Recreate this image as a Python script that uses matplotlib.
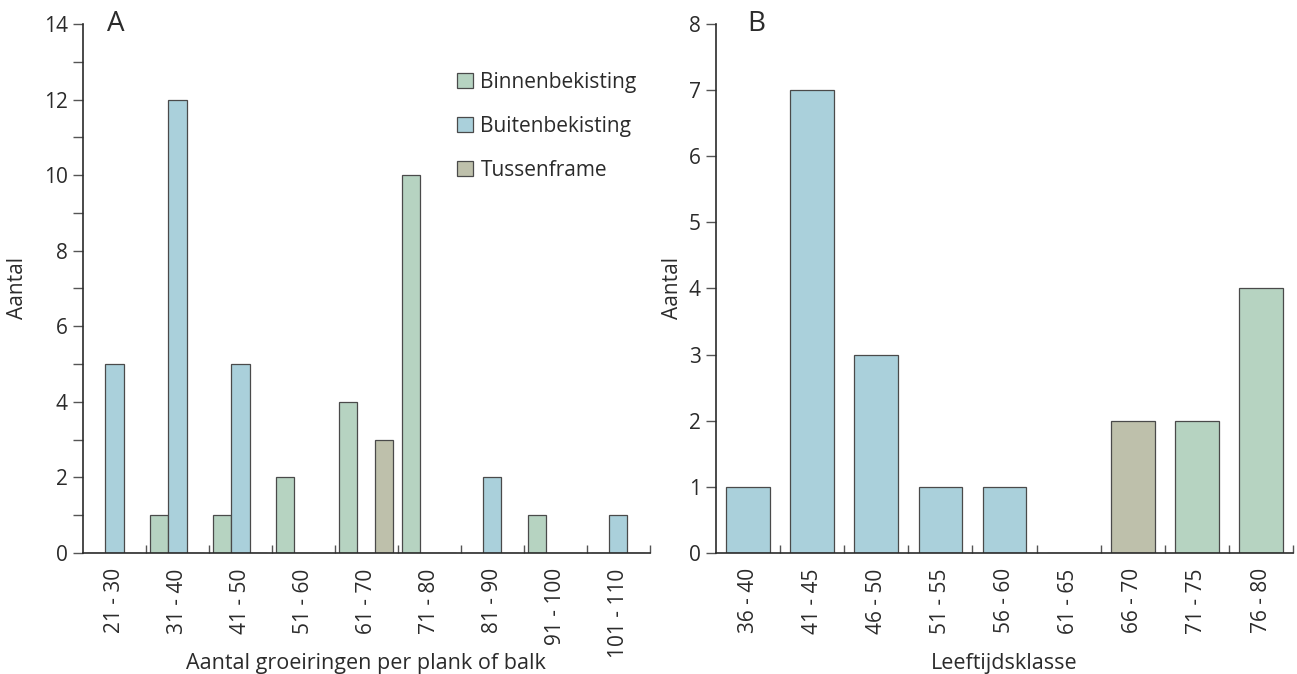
import numpy as np
import matplotlib
matplotlib.use("Agg")
import matplotlib.pyplot as plt
from matplotlib.ticker import MultipleLocator, FixedLocator
from matplotlib.patches import Patch

plt.rcParams['font.family'] = ['Open Sans', 'DejaVu Sans']

# Panel A data
klassen_a = ['21 - 30', '31 - 40', '41 - 50', '51 - 60', '61 - 70',
             '71 - 80', '81 - 90', '91 - 100', '101 - 110']
binnen_a = [0, 1, 1, 2, 4, 10, 0, 1, 0]
buiten_a = [5, 12, 5, 0, 0, 0, 2, 0, 1]
tussen_a = [0, 0, 0, 0, 3, 0, 0, 0, 0]

# Panel B data
klassen_b = ['36 - 40', '41 - 45', '46 - 50', '51 - 55', '56 - 60',
             '61 - 65', '66 - 70', '71 - 75', '76 - 80']
aantal_b = [1, 7, 3, 1, 1, 0, 2, 2, 4]
groep_b = ['buiten', 'buiten', 'buiten', 'buiten', 'buiten',
           'buiten', 'tussen', 'binnen', 'binnen']

kleuren = {'binnen': '#b6d3c1', 'buiten': '#aad0db', 'tussen': '#bec0ab'}
edge = '#4a4a4a'
txt = '#2b2b2b'
fs = 15

fig = plt.figure(figsize=(12.97, 6.74), dpi=100)
ax_a = fig.add_axes([0.064, 0.1795, 0.437, 0.785])
ax_b = fig.add_axes([0.552, 0.1795, 0.445, 0.785])


def style_axis(ax, n, ymax):
    for s in ['top', 'right']:
        ax.spines[s].set_visible(False)
    for s in ['left', 'bottom']:
        ax.spines[s].set_color(txt)
        ax.spines[s].set_linewidth(1.2)
    ax.set_xlim(-0.5, n - 0.5)
    ax.set_ylim(0, ymax)
    ax.xaxis.set_major_locator(FixedLocator(np.arange(n)))
    ax.xaxis.set_minor_locator(FixedLocator(np.arange(n) + 0.5))
    ax.tick_params(axis='x', which='major', length=0, pad=11,
                   labelsize=fs, labelcolor=txt, rotation=90)
    ax.tick_params(axis='x', which='minor', direction='in', length=6,
                   color='#555555', width=1)
    ax.tick_params(axis='y', which='both', direction='out', length=7,
                   width=1, color='#555555', labelsize=fs, labelcolor=txt, pad=4)
    ax.set_ylabel('Aantal', fontsize=fs, color=txt, va='center')


x = np.arange(len(klassen_a))
w = 0.29
ax_a.bar(x - 0.29, binnen_a, w, color=kleuren['binnen'], edgecolor=edge, linewidth=0.9)
ax_a.bar(x, buiten_a, w, color=kleuren['buiten'], edgecolor=edge, linewidth=0.9)
ax_a.bar(x + 0.275, tussen_a, w, color=kleuren['tussen'], edgecolor=edge, linewidth=0.9)
style_axis(ax_a, len(klassen_a), 14)
ax_a.yaxis.set_major_locator(MultipleLocator(2))
ax_a.yaxis.set_minor_locator(MultipleLocator(1))
ax_a.set_xticklabels(klassen_a, va='top')
ax_a.set_xlabel('Aantal groeiringen per plank of balk', fontsize=15.5, color=txt, va='center')
ax_a.xaxis.set_label_coords(0.5, -0.208)
ax_a.yaxis.set_label_coords(-0.115, 0.5)
ax_a.text(0.042, 1.0, 'A', transform=ax_a.transAxes, fontsize=20, color=txt, va='center')

handles = [Patch(facecolor=kleuren['binnen'], edgecolor=edge, linewidth=0.9, label='Binnenbekisting'),
           Patch(facecolor=kleuren['buiten'], edgecolor=edge, linewidth=0.9, label='Buitenbekisting'),
           Patch(facecolor=kleuren['tussen'], edgecolor=edge, linewidth=0.9, label='Tussenframe')]
leg = ax_a.legend(handles=handles, loc='upper left', bbox_to_anchor=(0.646, 0.925),
                  frameon=False, fontsize=fs, labelspacing=1.1, borderaxespad=0,
                  handlelength=0.75, handleheight=0.75, handletextpad=0.35)
for t in leg.get_texts():
    t.set_color(txt)

xb = np.arange(len(klassen_b))
ax_b.bar(xb, aantal_b, 0.68, color=[kleuren[g] for g in groep_b],
         edgecolor=edge, linewidth=0.9)
style_axis(ax_b, len(klassen_b), 8)
ax_b.yaxis.set_major_locator(MultipleLocator(1))
ax_b.set_xticklabels(klassen_b, va='top')
ax_b.set_xlabel('Leeftijdsklasse', fontsize=15.5, color=txt, va='center')
ax_b.xaxis.set_label_coords(0.5, -0.208)
ax_b.yaxis.set_label_coords(-0.076, 0.5)
ax_b.text(0.055, 1.0, 'B', transform=ax_b.transAxes, fontsize=20, color=txt, va='center')

fig.savefig('out.png', dpi=100)
